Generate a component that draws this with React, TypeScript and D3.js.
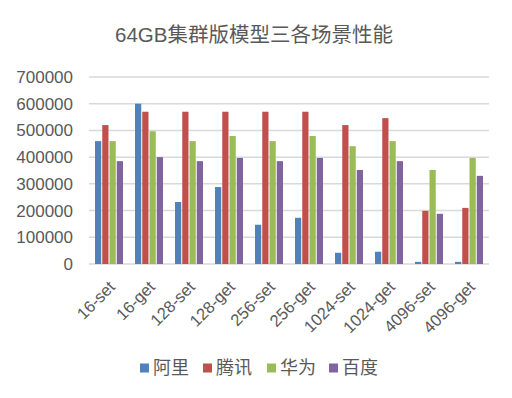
import React, { useEffect, useRef } from "react";
import * as d3 from "d3";

const categories = ["16-set", "16-get", "128-set", "128-get", "256-set", "256-get", "1024-set", "1024-get", "4096-set", "4096-get"];
const seriesNames = ["阿里", "腾讯", "华为", "百度"];
const ali = [460000, 600000, 232000, 288000, 147000, 173000, 42000, 46000, 8000, 8000];
const tencent = [520000, 570000, 570000, 570000, 570000, 570000, 520000, 546000, 199000, 210000];
const huawei = [460000, 497000, 460000, 479000, 460000, 479000, 441000, 460000, 352000, 397000];
const baidu = [385000, 400000, 385000, 397000, 385000, 397000, 352000, 385000, 188000, 330000];
const yTicks = [0, 100000, 200000, 300000, 400000, 500000, 600000, 700000];
const colors = ["#4f81bd", "#c0504d", "#9bbb59", "#8064a2"];

const FONT = "'Liberation Sans', Arial, 'Noto Sans CJK SC', sans-serif";

const App = () => {
  const ref = useRef<SVGSVGElement>(null);

  useEffect(() => {
    const width = 512;
    const height = 398;
    const margin = { top: 77, right: 23, bottom: 134, left: 89 };
    const values = [ali, tencent, huawei, baidu];

    const svg = d3.select(ref.current);
    svg.selectAll("*").remove();
    svg.attr("width", width).attr("height", height);

    svg
      .append("rect")
      .attr("width", width)
      .attr("height", height)
      .attr("fill", "#fff");

    svg
      .append("text")
      .text("64GB集群版模型三各场景性能")
      .attr("x", 254)
      .attr("y", 42)
      .attr("text-anchor", "middle")
      .attr("fill", "#595959")
      .style("font-family", FONT)
      .style("font-size", "20.5px");

    const x0 = d3
      .scaleBand()
      .domain(categories)
      .range([margin.left, width - margin.right]);

    const x1 = d3
      .scaleBand()
      .domain(seriesNames)
      .range([x0.bandwidth() * 0.15, x0.bandwidth() * 0.85])
      .paddingInner(0.14);

    const y = d3
      .scaleLinear()
      .domain([0, 700000])
      .range([height - margin.bottom, margin.top]);

    svg
      .append("g")
      .selectAll("line")
      .data(yTicks)
      .join("line")
      .attr("x1", margin.left)
      .attr("x2", width - margin.right)
      .attr("y1", (d) => y(d))
      .attr("y2", (d) => y(d))
      .attr("stroke", "#d9d9d9")
      .attr("stroke-width", 1.5);

    svg
      .append("g")
      .selectAll("text")
      .data(yTicks)
      .join("text")
      .text((d) => String(d))
      .attr("x", 73)
      .attr("y", (d) => y(d))
      .attr("dy", "0.35em")
      .attr("text-anchor", "end")
      .attr("fill", "#595959")
      .style("font-family", FONT)
      .style("font-size", "17px");

    svg
      .append("g")
      .selectAll("g")
      .data(categories)
      .join("g")
      .attr("transform", (c) => `translate(${x0(c)},0)`)
      .selectAll("rect")
      .data((c, ci) => seriesNames.map((s, si) => ({ key: s, value: values[si][ci], color: colors[si] })))
      .join("rect")
      .attr("x", (d) => x1(d.key) as number)
      .attr("y", (d) => y(d.value))
      .attr("width", x1.bandwidth())
      .attr("height", (d) => y(0) - y(d.value))
      .attr("fill", (d) => d.color);

    svg
      .append("g")
      .selectAll("text")
      .data(categories)
      .join("text")
      .text((d) => d)
      .attr("transform", (d) => {
        const cx = (x0(d) as number) + x0.bandwidth() / 2 + 3;
        return `translate(${cx},${y(0) + 20}) rotate(-45)`;
      })
      .attr("text-anchor", "end")
      .attr("dy", "0.35em")
      .attr("fill", "#595959")
      .style("font-family", FONT)
      .style("font-size", "16.5px");

    const legendX = [140, 203, 267, 329];
    const legend = svg.append("g");
    seriesNames.forEach((s, i) => {
      const g = legend.append("g").attr("transform", `translate(${legendX[i]},368)`);
      g.append("rect")
        .attr("x", 0)
        .attr("y", -4.5)
        .attr("width", 9)
        .attr("height", 9)
        .attr("fill", colors[i]);
      g.append("text")
        .text(s)
        .attr("x", 13)
        .attr("y", 0)
        .attr("dy", "0.36em")
        .attr("fill", "#595959")
        .style("font-family", FONT)
        .style("font-size", "18px");
    });
  }, []);

  return <svg ref={ref} style={{ position: "absolute", left: 0, top: 0 }}></svg>;
};

export default App;
